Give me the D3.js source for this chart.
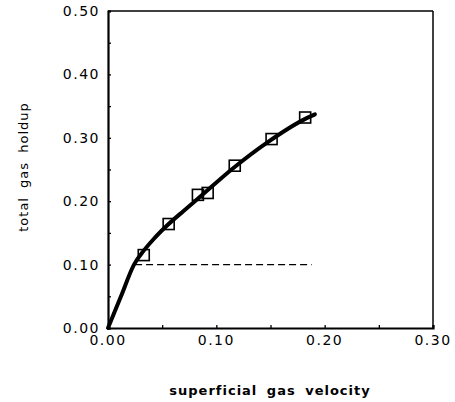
<!DOCTYPE html>
<html>
<head>
<meta charset="utf-8">
<script src="https://cdn.jsdelivr.net/npm/d3@7"></script>
<style>
  html, body { margin: 0; padding: 0; background: #fff; }
  svg { display: block; }
  text { font-family: "DejaVu Sans", sans-serif; fill: #000; }
</style>
</head>
<body>
<svg id="chart" width="455" height="402"></svg>
<script>
// Measured holdup points
const velocity = [0.033, 0.056, 0.083, 0.092, 0.117, 0.151, 0.182];
const holdup   = [0.115, 0.164, 0.210, 0.213, 0.256, 0.298, 0.332];

// Fitted correlation curve
const fitVelocity = [0.000, 0.012, 0.024, 0.033, 0.042, 0.0535, 0.070, 0.085, 0.1155, 0.1465, 0.1834, 0.191];
const fitHoldup   = [0.000, 0.050, 0.100, 0.122, 0.140, 0.160, 0.185, 0.207, 0.252, 0.292, 0.331, 0.337];

// Transition level line
const transitionLevel = 0.10;
const transitionRange = [0.025, 0.188];

const xTicks = [0.00, 0.10, 0.20, 0.30];
const yTicks = [0.00, 0.10, 0.20, 0.30, 0.40, 0.50];
const minorTicks = [0.05, 0.15, 0.25, 0.35, 0.45];

const xTitle = "superficial gas velocity";
const yTitle = "total gas holdup";

const svg = d3.select("#chart");
const plotL = 108, plotR = 433, plotT = 11, plotB = 328;

const x = d3.scaleLinear().domain([0, 0.30]).range([plotL, plotR]);
const y = d3.scaleLinear().domain([0, 0.50]).range([plotB, plotT]);

// frame
svg.append("line").attr("x1", plotL).attr("x2", plotR).attr("y1", plotT).attr("y2", plotT)
  .attr("stroke", "#000").attr("stroke-width", 1.5);
svg.append("line").attr("x1", plotR).attr("x2", plotR).attr("y1", plotT).attr("y2", plotB)
  .attr("stroke", "#000").attr("stroke-width", 1.5);

// y axis
const yAxis = svg.append("g").attr("transform", `translate(${plotL},0)`)
  .call(d3.axisRight(y).tickValues(yTicks.concat(minorTicks)).tickSize(3).tickFormat(""));
yAxis.select(".domain").attr("stroke-width", 2.2);
yAxis.selectAll(".tick line").attr("stroke-width", 1.3);

svg.append("g").selectAll("text").data(yTicks).join("text")
  .attr("x", plotL - 8).attr("y", d => y(d)).attr("dy", "0.36em")
  .attr("text-anchor", "end").attr("font-size", 14).attr("letter-spacing", 1.5)
  .text(d => d.toFixed(2));

// x axis
const xAxis = svg.append("g").attr("transform", `translate(0,${plotB})`)
  .call(d3.axisTop(x).tickValues(xTicks.concat([0.05, 0.15, 0.25])).tickSize(3).tickFormat(""));
xAxis.select(".domain").attr("stroke-width", 2.2);
xAxis.selectAll(".tick line").attr("stroke-width", 1.3);

svg.append("g").selectAll("text").data(xTicks).join("text")
  .attr("x", d => x(d)).attr("y", plotB + 12).attr("dy", "0.36em")
  .attr("text-anchor", "middle").attr("font-size", 14).attr("letter-spacing", 1.5)
  .text(d => d.toFixed(2));

// titles
svg.append("text").attr("x", 270).attr("y", 390).attr("dy", "0.36em")
  .attr("text-anchor", "middle").attr("font-size", 13).attr("font-weight", "bold")
  .attr("letter-spacing", 1).attr("word-spacing", 4).text(xTitle);
svg.append("text").attr("transform", "translate(23,167) rotate(-90)").attr("dy", "0.36em")
  .attr("text-anchor", "middle").attr("font-size", 13)
  .attr("letter-spacing", 1).attr("word-spacing", 4).text(yTitle);

// dashed transition line
svg.append("line")
  .attr("x1", x(transitionRange[0])).attr("x2", x(transitionRange[1]))
  .attr("y1", y(transitionLevel)).attr("y2", y(transitionLevel))
  .attr("stroke", "#000").attr("stroke-width", 1.2).attr("stroke-dasharray", "7,4");

// fitted curve
const fit = fitVelocity.map((v, i) => [v, fitHoldup[i]]);
svg.append("path").datum(fit)
  .attr("d", d3.line().x(d => x(d[0])).y(d => y(d[1])).curve(d3.curveMonotoneX))
  .attr("fill", "none").attr("stroke", "#000").attr("stroke-width", 4)
  .attr("stroke-linecap", "round").attr("stroke-linejoin", "round");

// measured points
const s = 11;
svg.append("g").selectAll("rect").data(velocity.map((v, i) => [v, holdup[i]])).join("rect")
  .attr("x", d => x(d[0]) - s / 2).attr("y", d => y(d[1]) - s / 2)
  .attr("width", s).attr("height", s)
  .attr("fill", "none").attr("stroke", "#000").attr("stroke-width", 1.6);
</script>
</body>
</html>
